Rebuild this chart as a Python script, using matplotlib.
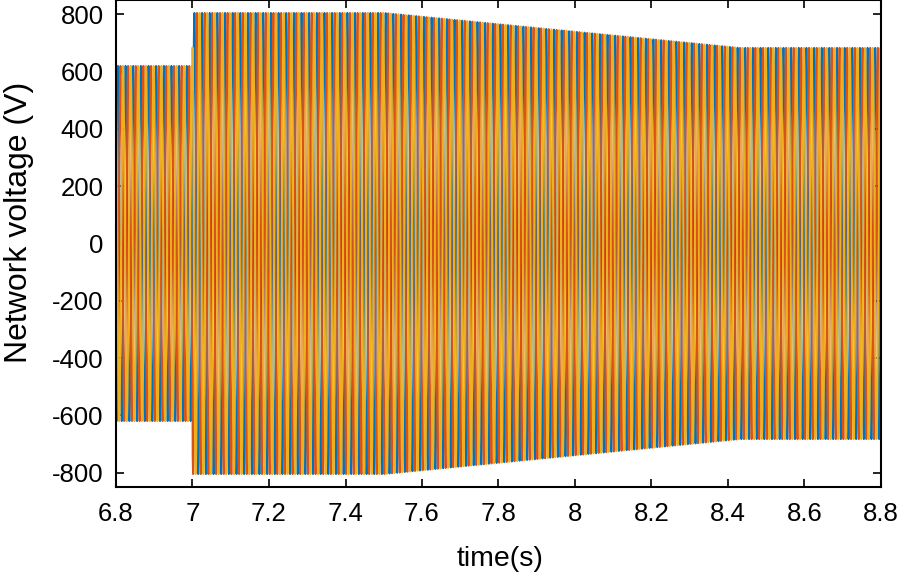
import numpy as np
import matplotlib
matplotlib.use("Agg")
import matplotlib.pyplot as plt

plt.rcParams['font.family'] = ['Liberation Sans', 'DejaVu Sans']
plt.rcParams['axes.unicode_minus'] = False

# Envelope breakpoints (time in s, peak amplitude in V)
env_time = [6.8, 7.0, 7.0, 7.5, 8.43, 8.8]
env_peak = [620, 620, 805, 805, 683, 683]
freq_hz = 50.0
phase_shift_deg = [0, -120, 120]
phase_colors = ['#0072BD', '#D95319', '#EDB120']

xticks = [6.8, 7.0, 7.2, 7.4, 7.6, 7.8, 8.0, 8.2, 8.4, 8.6, 8.8]
xticklabels = ['6.8', '7', '7.2', '7.4', '7.6', '7.8', '8', '8.2', '8.4', '8.6', '8.8']
yticks = [-800, -600, -400, -200, 0, 200, 400, 600, 800]

t = np.arange(6.8, 8.8 + 1e-9, 1e-4)
amp = np.interp(t, env_time, env_peak)
late = t >= 7.0
amp[late] = np.interp(t[late], env_time[2:], env_peak[2:])

fig = plt.figure(figsize=(8.98, 5.75), dpi=100)
ax = fig.add_axes([116 / 898, 88 / 575, 765 / 898, 487 / 575])
for ph, c in zip(phase_shift_deg, phase_colors):
    v = amp * np.sin(2 * np.pi * freq_hz * t + np.deg2rad(ph))
    ax.plot(t, v, color=c, lw=1.4)

ax.set_xlim(6.8, 8.8)
ax.set_ylim(-850, 850)
ax.set_xticks(xticks)
ax.set_xticklabels(xticklabels)
ax.set_yticks(yticks)
ax.tick_params(direction='in', top=True, right=True, labelsize=18.5, length=6, width=1.2)
ax.tick_params(axis='x', pad=11)
ax.tick_params(axis='y', pad=9)
for s in ax.spines.values():
    s.set_linewidth(1.5)
ax.set_xlabel('time(s)', fontsize=20.5, va='center')
ax.xaxis.set_label_coords(0.502, -0.148)
ax.set_ylabel('Network voltage (V)', fontsize=23, va='center')
ax.yaxis.set_label_coords(-0.127, 0.543)

fig.savefig('out.png', dpi=100)
